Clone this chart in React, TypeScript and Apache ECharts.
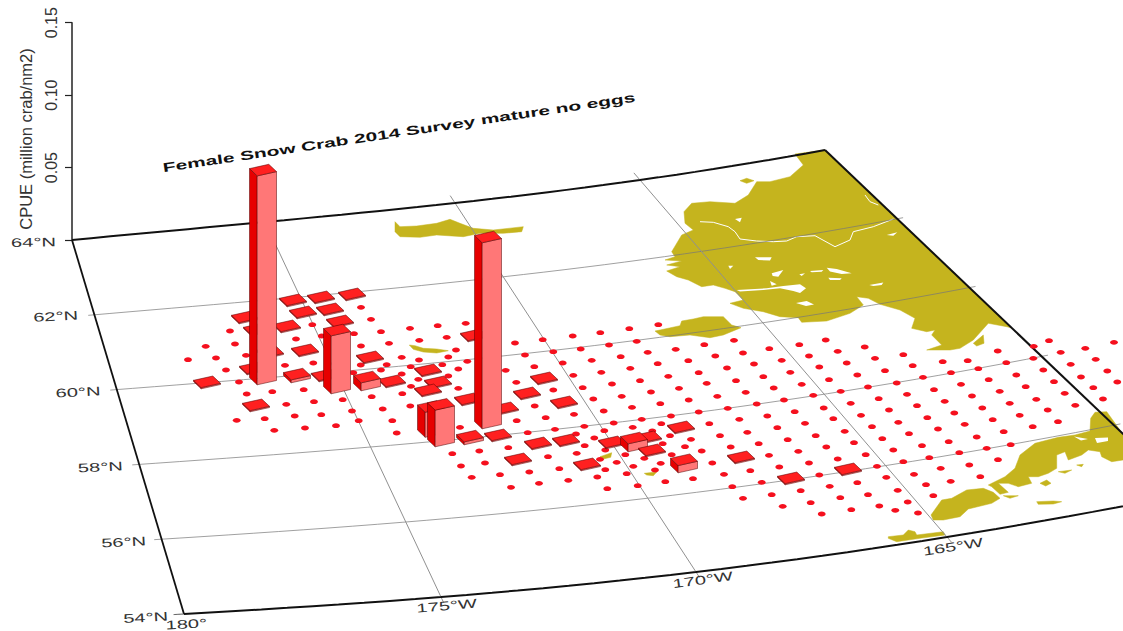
import React, { useEffect, useRef } from "react";
import * as echarts from "echarts";

const PAGE_W = 1123;
const PAGE_H = 631;

const titleText = "Female Snow Crab 2014 Survey mature no eggs";
const axisTitle = "CPUE (million crab/nm2)";
const cpueTicks = [0, 0.05, 0.1, 0.15];

// map frame: position of each meridian at its 64N and 54N ends, in map-plane units
const frameLons = [-180, -175, -170, -165, -160];
const northX = [72, 265, 455, 640, 825];
const northY = [240, 222, 203, 180, 150];
const southX = [184, 441, 696, 947, 1186];
const southY = [614, 597, 572, 537, 494];
const parallels = [62, 60, 58, 56];
const meridians = [-175, -170, -165];

const latLabels = [
  ["64°N", 33.5, 242.5, -1], ["62°N", 55.7, 316.5, -3], ["60°N", 78, 392.3, -3],
  ["58°N", 100.3, 467.3, -3], ["56°N", 123.7, 542.3, -3], ["54°N", 145.7, 617.7, -3],
];
const lonLabels = [
  ["180°", 186.3, 624.3, -3], ["175°W", 446.7, 606, -5], ["170°W", 702.7, 580, -8], ["165°W", 953, 547, -9],
];

// survey stations on the map plane [easting, northing]
const stations = [
  [361,307.3],[371,319.3],[312.3,324.7],[230,331],[296,339],[381,331.7],[354,333.7],[235,344],[205.7,346.3],[361,346],
  [389,343.3],[246,355.3],[216,358],[188,359.7],[313.3,363],[285,365.3],[360.7,365],[386.7,364.7],[226,370],[381,370],
  [239,382],[272.3,391.7],[303.7,389.7],[246.7,394],[371.7,396.7],[286.3,404.3],[314,401.7],[342.7,399.7],[382.7,409],
  [236.7,420.3],[264.7,418.7],[294.7,416],[321.3,414.7],[352,411],[358.7,420.7],[392.3,420.7],[305,428],[336,425.7],
  [274.3,430.3],[396.7,433],[321.7,336],[353.3,372.7],
  [410,328.3],[437.7,325.7],[465.7,323.3],[446.7,337.3],[419.3,340.3],[515,343],[542.7,339.7],[572.7,336],[600.3,332.7],
  [629.3,328.7],[658.3,324.7],[525,355],[553.3,351.7],[580.7,349],[609,345],[636.7,341.3],[675.7,349.3],[647.7,352.3],
  [456,350],[448.3,357],[419,360],[401.7,357.3],[442.3,364.7],[410.7,366.7],[467.3,361.3],[562.7,363],[591.7,360.3],
  [620.7,356.7],[657.7,363.7],[458.3,369],[534.3,366.7],[505.7,370.3],[630.3,368.3],[573.3,375.3],[601.3,372.3],
  [668.3,376.3],[401.7,374],[418.3,379.3],[448.3,376],[640,380.7],[516.3,382.3],[612,384],[679,388.3],[411,386.3],
  [458.3,388.3],[582.7,387.7],[651,392],[553.3,390],[402.3,393.7],[621.7,396.3],[593.3,399],[660.3,403.7],[534.7,406],
  [410.3,406],[632,407.3],[603.7,411],[574,414.3],[545.7,417.7],[516.7,420.7],[671,416],[641.7,419.3],[460,427.3],
  [613.7,423],[584.3,426.3],[555,429.3],[632.7,427.3],[661.3,423.7],[604.3,430.7],[527.7,432.7],[652.3,431],[576,434],
  [670,435.7],[594.3,438],[662.7,443.7],[584.7,445.7],[508.3,447.7],[605.3,450],[479.3,451],[452.3,453.7],[576.7,453.3],
  [548,456.7],[625.3,454.7],[644.3,458.3],[671.7,454.7],[600,459.3],[616.7,462.3],[660.7,463.3],[461,466],[485,463],
  [633.3,466.3],[559.3,468.7],[529.3,472],[605.3,469.7],[655,470],[626.7,473.7],[597.3,477],[500,474.7],[471.7,477.3],
  [568.3,480.3],[539,483.3],[665.3,481.7],[637.7,485.7],[511,487.3],[607.3,488.7],
  [704.3,344.7],[734,340.3],[769.3,348.7],[743,353],[715.3,356],[688.3,360.7],[799.3,344.7],[825.7,340],[837.7,351.3],
  [809,356],[864.7,347],[903.3,354.7],[846.7,363],[875,358.3],[781.7,360.3],[754,364],[727,368],[819.3,367],[698.7,372.7],
  [790.3,372.3],[885,370.7],[912.7,365.7],[942.7,361.7],[967.7,360.7],[997.7,351],[1006.3,362.7],[1033.3,358.3],
  [1033.7,346.3],[1049,340.7],[1060.7,352.3],[1085.3,348.3],[1114,342.3],[763.3,376.7],[736,380.7],[829,379.7],[857.3,375],
  [978.3,368.7],[951,372.7],[923,377.3],[896.7,383],[868,387],[840.7,391.3],[813.3,395.3],[784,400],[756.7,404],[727.7,408.3],
  [698.7,412],[801.7,384.3],[773.7,388],[745.7,392.3],[717.3,396.3],[688.7,400],[706.7,383.3],[1016.3,375],[1043.3,370],
  [1070.7,364.3],[1095.7,359.3],[988.7,379.7],[961,384.3],[934,389.7],[907,394.3],[878.7,398.7],[850.7,403.3],[1054,381.7],
  [1025.7,386.7],[1081,377],[1107.3,371],[999.7,391.3],[972,396],[944.7,401.3],[917,405.7],[889,410],[861,415.3],[823.7,408],
  [794.7,411.7],[767.3,416],[739.3,419.3],[709.3,423.7],[1117.3,382],[1093.3,387.7],[1064.7,393.3],[1036.3,399.3],
  [1009.7,403.3],[982.3,408],[954.3,413],[927.3,417.7],[898.3,422.3],[872,426.7],[833.3,418.7],[805,423.3],[777.3,427.7],
  [747.3,432.3],[720,435.7],[1103,399],[1075.3,405.3],[1047.7,410],[1019.7,415.3],[992.7,419.7],[964.7,424.3],[938,429],
  [909,433.7],[882.3,438.7],[844.7,431.3],[815.7,435.7],[787.7,439.7],[758.7,443.7],[730.7,447],[701.7,451],[691,439.3],
  [685,446.7],[1058,421.7],[1032.7,426.7],[1003.7,431.7],[976.7,437],[948.7,441.7],[922,445.7],[893.3,450],[854,442.7],
  [826.3,447],[798.3,451.3],[769,455.3],[1010.7,444.7],[986.7,448.3],[959.3,452.7],[929.3,457.7],[903.3,461.7],[865.7,454.7],
  [837.7,459],[809,463],[779.3,467],[750.3,470.7],[712.3,463],[998,459.7],[969.3,465],[940.7,468.3],[877,466.3],[819.3,475],
  [724,474.3],[693,478.7],[914,474.3],[980.3,476.7],[886.3,477.3],[761.7,482.3],[732.3,486.7],[829.7,486.3],[857.3,482.7],
  [950.7,481.3],[926,484.7],[897.7,490.3],[800.7,490.7],[771.7,494.7],[933.3,495.7],[743,498.3],[840.3,497.7],[868,494.7],
  [810.7,502.7],[907.7,502],[782.7,506.3],[879.3,506],[851.3,509.7],[895.3,510.3],[918,513],[821.7,514],
];

// stations with a catch [easting, northing, CPUE in million crab/nm2]
const catches = [
  [207,383,0.0008],[256,406,0.0008],[293,301,0.0008],[321,298,0.0008],[352,295,0.0008],[303,313,0.0008],[330,310,0.0008],
  [340,322,0.0008],[245,318,0.0008],[287,327,0.0008],[257,330,0.0008],[305,351,0.0008],[270,353,0.0008],[370,358,0.0008],
  [253,369,0.0008],[297,377,0.002],[325,376,0.0008],[367,385,0.0055],[392,382,0.0008],[263,379,0.1442],[337,388,0.04],
  [441,441,0.0253],[431,431.5,0.0173],[488,423,0.1284],[428,371,0.0008],[438,383,0.0008],[428,391,0.0008],[468,400,0.0008],
  [505,409,0.0008],[527,394,0.0008],[544,379,0.0008],[564,403,0.0008],[474,336,0.0008],[470,439,0.002],[498,436,0.0008],
  [538,444,0.0008],[566,441,0.0008],[518,460,0.0008],[587,465,0.0008],[612,443,0.0008],[634,446,0.0055],[648,438,0.0008],
  [652,451,0.0008],[681,428,0.0008],[684,467,0.005],[741,458,0.0008],[791,479,0.0008],[848,470,0.0008],
];

// coastlines
const alaska = [[795,154],[825,150],[1012,328],[1006.7,326.7],[988.3,323.3],[973.3,340],[960,348.3],[950,350],[926.7,350],[941.7,345],[931.7,335],[935,330],[926.7,331.7],[911.7,328.3],[915,318.3],[900,310],[880,304.3],[868.3,298.3],[856.7,296.7],[863.3,305],[850,313.3],[826.7,321],[801.7,322.3],[798.3,317.7],[780,316.7],[763.3,311.7],[743.3,308.3],[730,303.3],[743.3,300],[735,291.7],[725,288.3],[713.3,285],[701.7,286.7],[688.3,280],[676.7,276.7],[666.7,271],[680,266.7],[666.7,265],[681.7,261],[665,260],[675,256.7],[671.7,251.7],[681.7,235],[693.3,230],[685,223.3],[684,211.7],[691.7,203.3],[710,201.7],[735,203.3],[748.3,195],[756.7,181.7],[770,181.7],[790,176.7],[803.3,165]];
const nunivak = [[655,331],[660,330],[680,325.7],[681.7,321],[693.3,319],[703.3,316.7],[723.3,316.7],[731.7,325],[741,327.7],[723.3,335],[710,337.7],[690,335],[670,336.7],[660,335]];
const stLawrence = [[395,221.7],[400,226.7],[416.7,226],[436.7,223.3],[450,219.3],[460,223.3],[473.3,228.3],[493.3,230],[523.3,226.7],[521.7,231.7],[503.3,233.3],[480,233.3],[463.3,236.7],[436.7,235],[420,237.3],[400,236.7],[395,231.7]];
const stMatthew = [[409.3,345],[415,345.7],[423.3,348.3],[436.7,349],[448.3,350.7],[436.7,353],[423.3,352],[413.3,349.3]];
const stPaul = [[600,456.7],[611.7,452.7],[610.7,457.3],[603.3,459]];
const stGeorge = [[644.3,473.3],[656.7,472],[653.3,475.7],[646.7,475]];
const peninsulaWest = [[931,515],[941.7,500],[951.7,498.3],[966.7,490],[983.3,488.3],[993.3,492.3],[1000,498.3],[991.7,503.3],[968.3,509],[960,516.7],[943.3,520],[933.3,520]];
const peninsulaEast = [[988.3,485],[1005,476.7],[1015,468.3],[1020,455],[1035,443.3],[1058.3,437.3],[1075,435],[1090,431],[1090.7,418.3],[1095,412.3],[1106.7,411.7],[1123,434.3],[1123,460],[1111.7,461.7],[1101.7,456.7],[1100,451.7],[1088.3,450],[1081.7,455],[1068.3,460],[1065,451.7],[1056.7,455],[1056.7,468.3],[1048.3,473.3],[1038.3,476.7],[1028.3,476.7],[1031.7,483.3],[1018.3,486.7],[1008.3,483.3],[998.3,483.3],[1008.3,492.3],[1000,494.3],[991.7,486.7]];
const isleSouth = [[1036.7,501.7],[1053.3,501],[1061.7,501.7],[1053.3,504],[1038.3,504.3]];
const isleA = [[1003.3,495.7],[1018.3,495.7],[1010,498.3]];
const isleB = [[1040,483.3],[1046.7,480],[1051,483.3],[1045.7,486]];
const isleC = [[1058.3,471.7],[1071.7,470],[1065,473.3]];
const isleD = [[1076.7,465],[1083.3,464.3],[1081.7,466.7]];
const aleutians = [[888.3,536.7],[903.3,535],[908.3,530],[915,531.7],[916.7,535],[943.3,531.7],[945,535],[920,538.3],[896.7,541.7],[888.3,538.3]];
const northIsle = [[740,180.7],[746.7,178.3],[754,180.7],[746.7,183.3]];
const bayIsle = [[973.3,343.3],[983.3,335],[984,343.3],[976.7,346]];
const landPolygons = [alaska, nunivak, stLawrence, stMatthew, stPaul, stGeorge, peninsulaWest, peninsulaEast, isleSouth, isleA, isleB, isleC, isleD, aleutians, northIsle, bayIsle];

const lakes = [
  [[736.7,290],[766.7,288.3],[783.3,286],[800,284.3],[806,288.3],[800,293],[793.3,291],[780,288.3],[763.3,290],[740,291.5]],
  [[771.7,273.3],[783.3,270],[778.3,276.7],[772.7,276]],
  [[755,257.3],[771.7,257.3],[770,260.5],[758.3,260]],
  [[826.7,267.7],[836.7,269],[851.7,273.3],[841.7,274],[830,271.5]],
  [[828.3,277.7],[841.7,278.3],[840,280],[830,280]],
  [[810,271],[823.3,270],[821.7,271.7],[811.7,272.3]],
  [[799.3,274.3],[805,273.3],[801.7,276]],
  [[728.3,265.7],[733.3,265.7],[730,269]],
  [[770,281],[776.7,284.3],[771.7,285.7]],
  [[796,303],[806.7,301],[814,304.5],[806,306]],
  [[869.3,285],[883.3,282.5],[881.7,285],[873.3,286]],
  [[886.7,235],[897.3,232.3],[893.3,235.7]],
  [[735,219],[741.7,217.7],[740,222.3]],
  [[1095,438],[1108,437.5],[1108,441],[1097,443]],
  [[1074,436.5],[1088,439],[1081,440.5]],
];
const rivers = [
  [[700,221.7],[713.3,222.3],[728.3,226.7],[735,231.7],[740,239],[756.7,241],[773.3,241.7],[786.7,241],[796.7,236.7],[815,235.7],[835,246.7],[850,240],[853.3,231.7],[873.3,226.7],[893.3,219]],
  [[865,195],[870,201.7],[878.3,205]],
];

const LAND = "#C5B41E";
const RED = "#F5101E";

function nodeCurve(nodes: number[], lon: number) {
  let sum = 0;
  for (let i = 0; i < frameLons.length; i++) {
    let term = nodes[i];
    for (let j = 0; j < frameLons.length; j++) {
      if (j !== i) term *= (lon - frameLons[j]) / (frameLons[i] - frameLons[j]);
    }
    sum += term;
  }
  return sum;
}
function toPlane(lon: number, lat: number) {
  const t = (64 - lat) / 10;
  const nx = nodeCurve(northX, lon), ny = nodeCurve(northY, lon);
  const sx = nodeCurve(southX, lon), sy = nodeCurve(southY, lon);
  return [nx + (sx - nx) * t, ny + (sy - ny) * t];
}
function parallelLine(lat: number, from: number, to: number) {
  const pts: number[][] = [];
  const steps = 40;
  for (let i = 0; i <= steps; i++) pts.push(toPlane(from + ((to - from) * i) / steps, lat));
  return pts;
}
function meridianLine(lon: number, north: number, south: number) {
  return [toPlane(lon, north), toPlane(lon, south)];
}

function gridLine(name: string, data: number[][], color: string, width: number, z: number) {
  return {
    type: "line", name, data, xAxisIndex: 0, yAxisIndex: 0, showSymbol: false, symbol: "none", silent: true,
    clip: false, z, lineStyle: { color, width },
  };
}

export default function App() {
  const ref = useRef<HTMLDivElement>(null);
  useEffect(() => {
    const chart = echarts.init(ref.current!, undefined, { renderer: "svg" });
    const pxPerCpue = () => {
      const a = chart.convertToPixel({ yAxisIndex: 1 }, 0) as number;
      const b = chart.convertToPixel({ yAxisIndex: 1 }, 0.1) as number;
      return (a - b) / 0.1;
    };
    const EX = [19.3, -4.3];
    const EY = [7.7, 7.3];
    const sortedCatches = [...catches].sort((p, q) => p[1] - q[1]);
    const mapLabel = (t: any, sx: number, sy: number) => ({
      type: "text", x: t[1], y: t[2], rotation: (-t[3] * Math.PI) / 180, scaleX: sx, scaleY: sy, silent: true, z: 50,
      style: { text: t[0], fill: "#333333", font: "16px 'Liberation Sans'", align: "center", verticalAlign: "middle" },
    });
    const option: any = {
      animation: false,
      backgroundColor: "#ffffff",
      grid: [
        { left: 0, top: 0, width: PAGE_W, height: PAGE_H, containLabel: false },
        { left: 72, top: 22.7, width: 10, height: 217.3, containLabel: false },
      ],
      xAxis: [
        { type: "value", gridIndex: 0, min: 0, max: PAGE_W, show: false },
        { type: "value", gridIndex: 1, min: 0, max: 1, show: false },
      ],
      yAxis: [
        { type: "value", gridIndex: 0, min: 0, max: PAGE_H, inverse: true, show: false },
        {
          type: "value", gridIndex: 1, min: cpueTicks[0], max: cpueTicks[3], interval: cpueTicks[1],
          axisLine: { show: true, lineStyle: { color: "#222222", width: 1.5 } },
          axisTick: { show: true, length: 7, lineStyle: { color: "#222222", width: 1.2 } },
          splitLine: { show: false },
          axisLabel: {
            rotate: 90, margin: 13, fontSize: 16, color: "#333333", fontFamily: "Liberation Sans",
            formatter: (v: number) => (v === 0 ? "" : v.toFixed(2)),
          },
        },
      ],
      series: [
        {
          type: "custom", name: "land", xAxisIndex: 0, yAxisIndex: 0, silent: true, clip: false, z: 2,
          data: landPolygons.map((_, i) => [0, 0, i]), encode: { x: 0, y: 1 },
          renderItem: (_p: any, api: any) => ({
            type: "polygon",
            shape: { points: landPolygons[api.value(2)].map((c) => api.coord(c)) },
            style: { fill: LAND, stroke: LAND, lineWidth: 0.5 },
          }),
        },
        {
          type: "custom", name: "lakes", xAxisIndex: 0, yAxisIndex: 0, silent: true, clip: false, z: 3,
          data: lakes.map((_, i) => [0, 0, i]), encode: { x: 0, y: 1 },
          renderItem: (_p: any, api: any) => ({
            type: "polygon",
            shape: { points: lakes[api.value(2)].map((c) => api.coord(c)) },
            style: { fill: "#ffffff" },
          }),
        },
        {
          type: "custom", name: "rivers", xAxisIndex: 0, yAxisIndex: 0, silent: true, clip: false, z: 3,
          data: rivers.map((_, i) => [0, 0, i]), encode: { x: 0, y: 1 },
          renderItem: (_p: any, api: any) => ({
            type: "polyline",
            shape: { points: rivers[api.value(2)].map((c) => api.coord(c)) },
            style: { fill: "none", stroke: "#ffffff", lineWidth: 1 },
          }),
        },
        ...parallels.map((lat) => gridLine(`${lat}N`, parallelLine(lat, -180.15, -159.85), "#777777", 0.7, 4)),
        ...meridians.map((lon) => gridLine(`${lon}`, meridianLine(lon, 64.2, 53.85), "#909090", 1, 4)),
        gridLine("north", parallelLine(64, -180, -160), "#111111", 2, 5),
        gridLine("south", parallelLine(54, -180, -160), "#111111", 2, 5),
        gridLine("west", meridianLine(-180, 64, 54), "#111111", 1.8, 5),
        gridLine("east", meridianLine(-160, 64, 54), "#111111", 2, 5),
        gridLine("tick54", parallelLine(54, -180.2, -180), "#444444", 1, 5),
        {
          type: "custom", name: "stations", xAxisIndex: 0, yAxisIndex: 0, silent: true, clip: false, z: 6,
          data: stations, encode: { x: 0, y: 1 },
          renderItem: (_p: any, api: any) => {
            const c = api.coord([api.value(0), api.value(1)]);
            return { type: "ellipse", shape: { cx: c[0], cy: c[1], rx: 3.9, ry: 2.4 }, style: { fill: RED } };
          },
        },
        {
          type: "custom", name: "catches", xAxisIndex: 0, yAxisIndex: 0, silent: true, clip: false, z: 7,
          data: sortedCatches, encode: { x: 0, y: 1 },
          renderItem: (_p: any, api: any) => {
            const c = api.coord([api.value(0), api.value(1)]);
            const h = api.value(2) * pxPerCpue();
            const corner = (sx: number, sy: number, up: number) => [
              c[0] + (sx * EX[0]) / 2 + (sy * EY[0]) / 2,
              c[1] + (sx * EX[1]) / 2 + (sy * EY[1]) / 2 - up,
            ];
            const edge = { stroke: "#500000", lineWidth: 0.5 };
            return {
              type: "group",
              children: [
                {
                  type: "polygon",
                  shape: { points: [corner(-1, -1, 0), corner(-1, 1, 0), corner(-1, 1, h), corner(-1, -1, h)] },
                  style: { fill: "#E60000", ...edge },
                },
                {
                  type: "polygon",
                  shape: { points: [corner(-1, 1, 0), corner(1, 1, 0), corner(1, 1, h), corner(-1, 1, h)] },
                  style: { fill: "#FF7777", ...edge },
                },
                {
                  type: "polygon",
                  shape: { points: [corner(-1, -1, h), corner(1, -1, h), corner(1, 1, h), corner(-1, 1, h)] },
                  style: { fill: "#FF2020", ...edge },
                },
              ],
            };
          },
        },
      ],
      graphic: [
        {
          type: "text", x: 399, y: 132.5, rotation: 0.149, scaleX: 1.31, scaleY: 0.8, silent: true, z: 50,
          style: { text: titleText, fill: "#111111", font: "bold 16px 'Liberation Sans'", align: "center", verticalAlign: "middle" },
        },
        {
          type: "text", x: 26, y: 139, rotation: Math.PI / 2, silent: true, z: 50,
          style: { text: axisTitle, fill: "#333333", font: "16.5px 'Liberation Sans'", align: "center", verticalAlign: "middle" },
        },
        ...latLabels.map((t) => mapLabel(t, 1.26, 0.78)),
        ...lonLabels.map((t) => mapLabel(t, 1.26, 0.78)),
      ],
    };
    chart.setOption(option);
    return () => chart.dispose();
  }, []);
  return <div ref={ref} style={{ position: "absolute", left: 0, top: 0, width: PAGE_W, height: PAGE_H }} />;
}
